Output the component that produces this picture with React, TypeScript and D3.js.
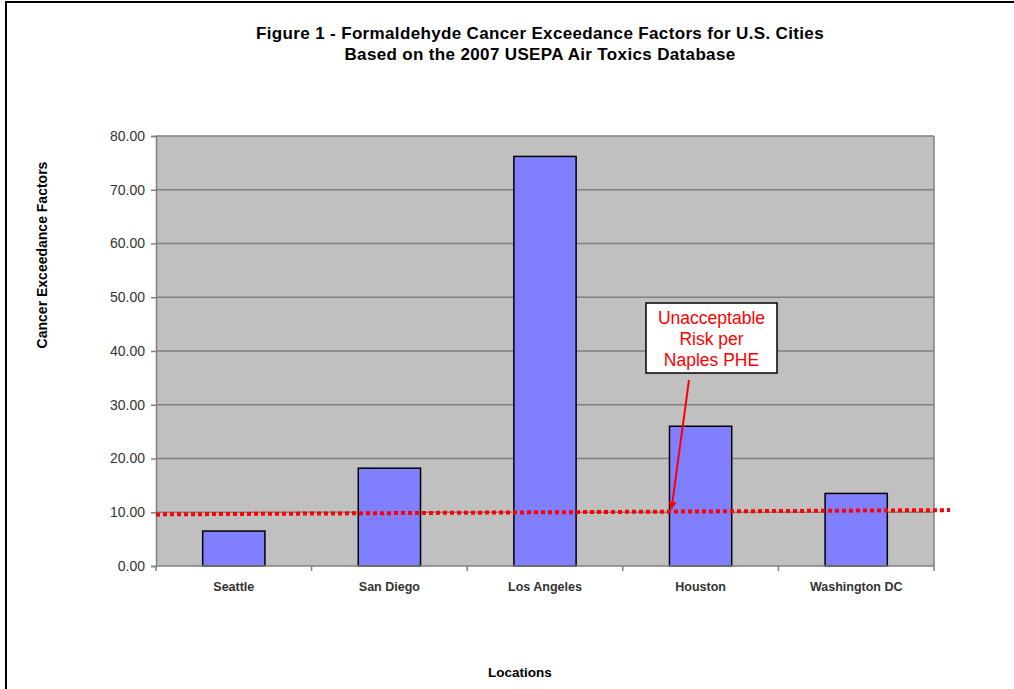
import React, { useEffect, useRef } from "react";
import * as d3 from "d3";

// chart data
const categories = ["Seattle", "San Diego", "Los Angeles", "Houston", "Washington DC"];
const factors = [6.5, 18.2, 76.2, 26.0, 13.5];
const yTicks = [0, 10, 20, 30, 40, 50, 60, 70, 80];
const titleLines = [
  "Figure 1 - Formaldehyde Cancer Exceedance Factors for U.S. Cities",
  "Based on the 2007 USEPA Air Toxics Database",
];
const noteLines = ["Unacceptable", "Risk per", "Naples PHE"];
// dotted threshold line, slightly tilted in the original
const riskStart = 9.6;
const riskEnd = 10.4;
const arrowTarget = 10.6;

const App = () => {
  const chart = useRef<SVGSVGElement>(null);

  useEffect(() => {
    document.body.style.margin = "0";
    const width = 1014;
    const height = 689;
    const font = "Arial, 'Liberation Sans', sans-serif";

    const svg = d3.select(chart.current);
    svg.selectAll("*").remove();
    svg.attr("width", width).attr("height", height).style("display", "block");

    svg.append("rect").attr("width", width).attr("height", height).attr("fill", "#fff");

    // frame around the figure
    svg
      .append("path")
      .attr("d", `M6,${height} V2 H${width}`)
      .attr("fill", "none")
      .attr("stroke", "#000")
      .attr("stroke-width", 2);

    const left = 156;
    const right = 934;
    const top = 136;
    const bottom = 566;

    //scales
    const xScale = d3
      .scaleBand()
      .domain(categories)
      .range([left, right])
      .paddingInner(0.6)
      .paddingOuter(0.3);
    const step = xScale.step();
    const yScale = d3.scaleLinear().domain([0, 80]).range([bottom, top]);

    // plot area
    svg
      .append("rect")
      .attr("x", left)
      .attr("y", top)
      .attr("width", right - left)
      .attr("height", bottom - top)
      .attr("fill", "#c0c0c0");

    // gridlines
    svg
      .selectAll(".grid")
      .data(yTicks.filter((t) => t > 0))
      .join("line")
      .attr("x1", left)
      .attr("x2", right)
      .attr("y1", (d) => yScale(d))
      .attr("y2", (d) => yScale(d))
      .attr("stroke", "#808080")
      .attr("stroke-width", 1.5);

    // right border of plot
    svg
      .append("line")
      .attr("x1", right)
      .attr("x2", right)
      .attr("y1", top)
      .attr("y2", bottom)
      .attr("stroke", "#808080")
      .attr("stroke-width", 1.5);

    // bars
    svg
      .selectAll(".bar")
      .data(factors)
      .join("rect")
      .attr("x", (v, i) => xScale(categories[i])!)
      .attr("y", (v) => yScale(v))
      .attr("width", xScale.bandwidth())
      .attr("height", (v) => bottom - yScale(v))
      .attr("fill", "#8080ff")
      .attr("stroke", "#000")
      .attr("stroke-width", 1.5);

    // y axis
    const yAxis = d3
      .axisLeft(yScale)
      .tickValues(yTicks)
      .tickSize(5)
      .tickPadding(6)
      .tickFormat((d) => d3.format(".2f")(d as number));
    const yG = svg.append("g").attr("transform", `translate(${left},0)`).call(yAxis);
    yG.select(".domain").attr("stroke", "#808080").attr("stroke-width", 1.5);
    yG.selectAll(".tick line").attr("stroke", "#808080").attr("stroke-width", 1.5);
    yG.selectAll(".tick text")
      .attr("fill", "#333")
      .style("font-family", font)
      .style("font-size", "14px");

    // x axis
    const xG = svg.append("g").attr("transform", `translate(0,${bottom})`);
    xG.append("line")
      .attr("x1", left)
      .attr("x2", right)
      .attr("stroke", "#808080")
      .attr("stroke-width", 1.5);
    xG.selectAll(".xtick")
      .data(d3.range(categories.length + 1))
      .join("line")
      .attr("x1", (i) => left + i * step)
      .attr("x2", (i) => left + i * step)
      .attr("y1", 0)
      .attr("y2", 5)
      .attr("stroke", "#808080")
      .attr("stroke-width", 1.5);
    xG.selectAll(".xlabel")
      .data(categories)
      .join("text")
      .attr("x", (c) => xScale(c)! + xScale.bandwidth() / 2)
      .attr("y", 25)
      .attr("text-anchor", "middle")
      .attr("fill", "#333")
      .style("font-family", font)
      .style("font-size", "12.5px")
      .style("font-weight", "bold")
      .text((c) => c);

    // threshold line
    svg
      .append("line")
      .attr("x1", left)
      .attr("x2", right + 16)
      .attr("y1", yScale(riskStart))
      .attr("y2", yScale(riskEnd))
      .attr("stroke", "#ff0000")
      .attr("stroke-width", 4)
      .attr("stroke-dasharray", "4,3");

    // titles
    svg
      .append("text")
      .attr("x", 540)
      .attr("y", 39)
      .attr("text-anchor", "middle")
      .style("font-family", font)
      .style("font-size", "17px")
      .style("font-weight", "bold")
      .style("letter-spacing", "0.35px")
      .selectAll("tspan")
      .data(titleLines)
      .join("tspan")
      .attr("x", 540)
      .attr("dy", (d, i) => (i === 0 ? 0 : 21))
      .text((d) => d);

    svg
      .append("text")
      .attr("transform", `translate(47,${255}) rotate(-90)`)
      .attr("text-anchor", "middle")
      .style("font-family", font)
      .style("font-size", "14px")
      .style("font-weight", "bold")
      .text("Cancer Exceedance Factors");

    svg
      .append("text")
      .attr("x", 520)
      .attr("y", 677)
      .attr("text-anchor", "middle")
      .style("font-family", font)
      .style("font-size", "13.5px")
      .style("font-weight", "bold")
      .text("Locations");

    // annotation
    const houstonX = xScale("Houston")!;
    const tipX = houstonX + 2;
    const tipY = yScale(arrowTarget);
    const startX = 689;
    const startY = 380;
    svg
      .append("defs")
      .append("marker")
      .attr("id", "arrow")
      .attr("viewBox", "0 0 10 10")
      .attr("refX", 9)
      .attr("refY", 5)
      .attr("markerWidth", 4)
      .attr("markerHeight", 4)
      .attr("orient", "auto")
      .append("path")
      .attr("d", "M0,0 L10,5 L0,10 z")
      .attr("fill", "#ff0000");
    svg
      .append("line")
      .attr("x1", startX)
      .attr("y1", startY)
      .attr("x2", tipX)
      .attr("y2", tipY)
      .attr("stroke", "#ff0000")
      .attr("stroke-width", 2)
      .attr("marker-end", "url(#arrow)");

    svg
      .append("rect")
      .attr("x", 646)
      .attr("y", 303)
      .attr("width", 131)
      .attr("height", 70)
      .attr("fill", "#fff")
      .attr("stroke", "#000")
      .attr("stroke-width", 1.5);
    svg
      .append("text")
      .attr("text-anchor", "middle")
      .attr("fill", "#ff0000")
      .style("font-family", font)
      .style("font-size", "17.5px")
      .selectAll("tspan")
      .data(noteLines)
      .join("tspan")
      .attr("x", 711.5)
      .attr("y", (d, i) => 324 + i * 21)
      .text((d) => d);
  }, []);

  return <svg ref={chart}></svg>;
};

export default App;
